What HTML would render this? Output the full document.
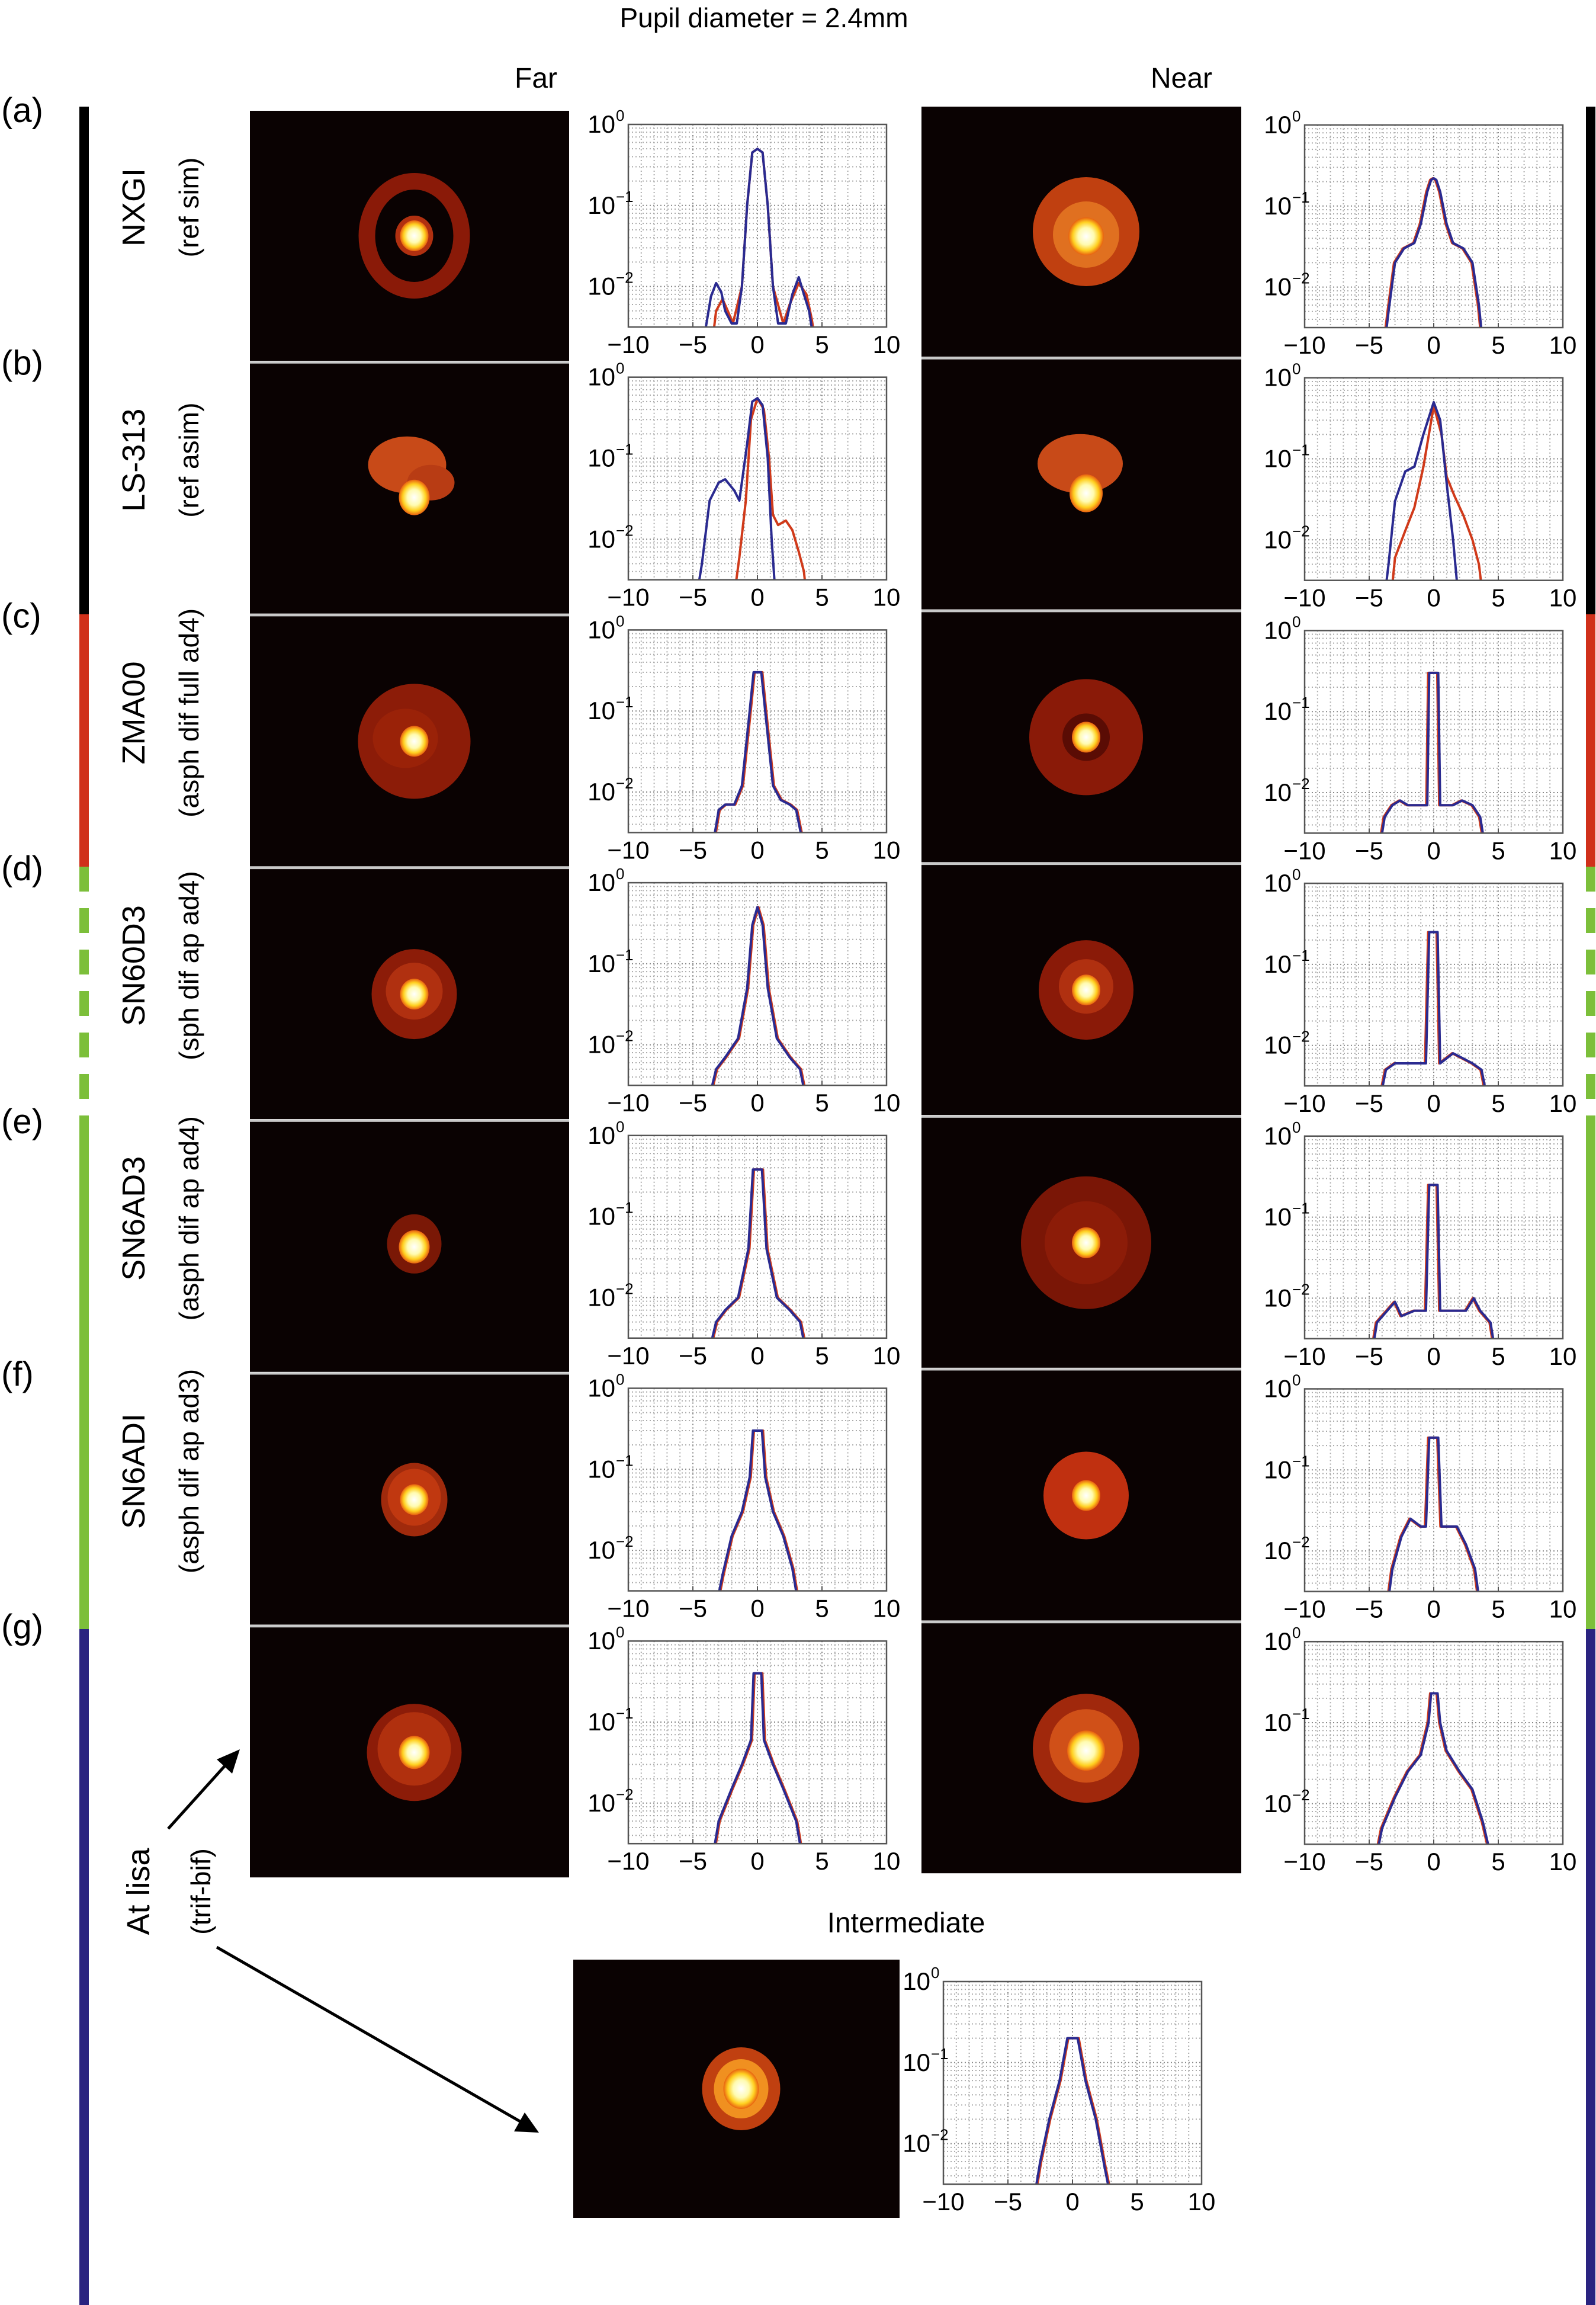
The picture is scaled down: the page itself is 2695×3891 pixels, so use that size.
<!DOCTYPE html>
<html><head><meta charset="utf-8">
<style>
html,body{margin:0;padding:0;background:#fff;}
#root{position:relative;width:2695px;height:3891px;overflow:hidden;background:#fff;}
svg{position:absolute;left:0;top:0;}
text{font-family:"Liberation Sans",sans-serif;}
.nar{font-family:"Liberation Sans Narrow","Liberation Sans",sans-serif;}
</style></head>
<body>
<div id="root">
<svg id="fig" width="2695" height="3891" viewBox="0 0 2695 3891" xmlns="http://www.w3.org/2000/svg">
<defs>
<radialGradient id="core" cx="50%" cy="50%" r="50%">
<stop offset="0" stop-color="#ffffff"/><stop offset="0.45" stop-color="#fffbb0"/><stop offset="0.75" stop-color="#ffd020"/><stop offset="1" stop-color="#e86010"/>
</radialGradient>
</defs>
<text x="1290" y="46" font-size="46" text-anchor="middle" class="nar">Pupil diameter = 2.4mm</text>
<text x="905" y="148" font-size="48" text-anchor="middle" class="nar">Far</text>
<text x="1995" y="148" font-size="48" text-anchor="middle" class="nar">Near</text>
<text x="1530" y="3262" font-size="48" text-anchor="middle" class="nar">Intermediate</text>
<g id="bars"></g>
<g id="labels"></g>
<g id="images"></g>
<g id="plots"></g>
<g>
<line x1="284" y1="3087" x2="385" y2="2975" stroke="#000" stroke-width="5"/>
<polygon points="405,2953 366,2970 392,2994" fill="#000"/>
<line x1="366" y1="3287" x2="885" y2="3585" stroke="#000" stroke-width="5"/>
<polygon points="910,3600 868,3598 886,3566" fill="#000"/>
</g>
</svg>
</div>
<script>
const NS='http://www.w3.org/2000/svg';
const rowLabels=['(a)','(b)','(c)','(d)','(e)','(f)','(g)'];
const lensNames=['NXGI','LS-313','ZMA00','SN60D3','SN6AD3','SN6ADI'];
const lensDesc=['(ref sim)','(ref asim)','(asph dif full ad4)','(sph dif ap ad4)','(asph dif ap ad4)','(asph dif ap ad3)'];
const xTicks=[-10,-5,0,5,10];
const yTickExp=[0,-1,-2];
const B=0.002; // below axis floor
const farX=[
[-4.2,-3.6,-3.2,-2.8,-2.5,-2,-1.6,-1.2,-0.8,-0.4,0,0.4,0.8,1.2,1.6,2.2,2.7,3.2,3.6,4,4.4],
[-4.7,-4.3,-3.7,-3,-2.5,-1.8,-1.4,-0.8,-0.4,0,0.4,0.8,1.1,1.4],
[-3.5,-3,-2.5,-1.8,-1.2,-0.6,-0.3,0,0.3,0.6,1.2,1.8,2.5,3,3.6],
[-3.8,-3.2,-2.5,-1.5,-0.8,-0.4,0,0.4,0.8,1.5,2.5,3.3,3.8],
[-3.8,-3.2,-2.5,-1.5,-0.7,-0.35,0.35,0.7,1.5,2.5,3.3,3.8],
[-3.2,-2.7,-2,-1.2,-0.6,-0.35,0.35,0.6,1.2,2,2.7,3.2],
[-3.5,-3,-2,-1.2,-0.5,-0.3,0.3,0.5,1.2,2,3,3.5]];
const farBlue=[
[B,0.0075,0.011,0.0085,0.005,0.0035,0.0035,0.01,0.1,0.45,0.5,0.45,0.1,0.01,0.0035,0.0035,0.008,0.013,0.008,0.005,B],
[B,0.005,0.03,0.05,0.055,0.04,0.03,0.15,0.5,0.55,0.45,0.1,0.01,B],
[B,0.006,0.007,0.007,0.012,0.1,0.3,0.3,0.3,0.1,0.012,0.008,0.007,0.006,B],
[B,0.005,0.007,0.012,0.05,0.3,0.5,0.3,0.05,0.012,0.007,0.005,B],
[B,0.005,0.007,0.01,0.04,0.38,0.38,0.04,0.01,0.007,0.005,B],
[B,0.005,0.015,0.03,0.08,0.3,0.3,0.08,0.03,0.015,0.006,B],
[B,0.006,0.015,0.03,0.06,0.4,0.4,0.06,0.03,0.015,0.006,B]];
const farRedX=[
[-3.5,-3.2,-2.7,-2.3,-1.9,-1.2,-0.8,-0.4,0,0.4,0.8,1.2,2,2.5,3.2,3.8,4.2,4.5],
[-1.8,-1.4,-0.9,-0.5,0,0.5,0.9,1.2,1.6,2.2,2.7,3.2,3.6,3.8]];
const farRed=[
[B,0.005,0.007,0.005,0.0035,0.01,0.1,0.45,0.5,0.45,0.1,0.01,0.0035,0.006,0.011,0.008,0.004,B],
[B,0.006,0.03,0.3,0.55,0.4,0.1,0.02,0.015,0.017,0.013,0.007,0.004,B]];
const nearX=[
[-3.8,-3.5,-3,-2.3,-1.5,-1,-0.5,-0.2,0,0.2,0.5,1,1.5,2.3,3,3.5,3.8],
[-3.8,-3.5,-3,-2.2,-1.5,-0.8,0,0.5,1,1.5,1.9],
[-4.2,-3.8,-3.2,-2.6,-2,-1,-0.5,-0.35,0.35,0.5,1.5,2.2,3,3.6,4],
[-4.2,-3.7,-3,-2,-0.6,-0.35,0.3,0.5,1.5,2.2,3,3.7,4.2],
[-4.8,-4.4,-3.6,-3,-2.5,-1.5,-0.6,-0.35,0.3,0.5,1.5,2.5,3.1,3.6,4.4,4.8],
[-3.6,-3.2,-2.5,-1.8,-1,-0.6,-0.35,0.35,0.6,1,1.8,2.5,3.2,3.6],
[-4.5,-4,-3,-2,-1,-0.4,-0.2,0.3,0.5,1,2,3,3.8,4.5]];
const nearBlue=[
[B,0.005,0.02,0.03,0.035,0.06,0.15,0.21,0.22,0.21,0.15,0.06,0.035,0.03,0.02,0.006,B],
[B,0.005,0.03,0.07,0.08,0.2,0.5,0.3,0.05,0.01,B],
[B,0.005,0.007,0.008,0.007,0.007,0.007,0.3,0.3,0.007,0.007,0.008,0.007,0.005,B],
[B,0.005,0.006,0.006,0.006,0.25,0.25,0.006,0.008,0.007,0.006,0.005,B],
[B,0.005,0.007,0.009,0.006,0.007,0.007,0.25,0.25,0.007,0.007,0.007,0.01,0.007,0.005,B],
[B,0.006,0.015,0.025,0.02,0.02,0.25,0.25,0.02,0.02,0.02,0.012,0.006,B],
[B,0.005,0.012,0.025,0.04,0.1,0.23,0.23,0.1,0.045,0.025,0.015,0.006,B]];
const nearRedX=[
[-3.3,-3,-2.2,-1.5,-0.8,0,0.6,1,1.6,2.3,3,3.5,3.8]];
const nearRed=[
[B,0.006,0.013,0.025,0.08,0.45,0.2,0.06,0.035,0.02,0.01,0.005,B]];
const midX=[-3,-2.5,-1.8,-1,-0.4,0.4,1,1.8,2.5,3];
const midBlue=[B,0.006,0.02,0.06,0.2,0.2,0.06,0.02,0.005,B];

const svg=document.getElementById('fig');
function el(tag,attrs,parent){const e=document.createElementNS(NS,tag);for(const k in attrs)e.setAttribute(k,attrs[k]);parent.appendChild(e);return e;}

const bars=document.getElementById('bars');
const PITCH=426.7;
function drawBar(x,name){
  const g=el('g',{},bars);
  
  
  el('rect',{x:x,y:180,width:16,height:1037-180,fill:'#000'},g);
  el('rect',{x:x,y:1037,width:16,height:1463-1037,fill:'#d0301a'},g);
  for(let y=1463;y<1893;y+=70){el('rect',{x:x,y:y,width:16,height:Math.min(42,1893-y),fill:'#7cbf3a'},g);}
  el('rect',{x:x,y:1893,width:16,height:2750-1893,fill:'#7cbf3a'},g);
  el('rect',{x:x,y:2750,width:16,height:3891-2750,fill:'#2a2380'},g);
}
drawBar(134,'left-group-bar');
drawBar(2678,'right-group-bar');

const lab=document.getElementById('labels');
rowLabels.forEach((t,i)=>{
  const e=el('text',{x:2,y:206+PITCH*i,'font-size':58,class:'nar'},lab);e.textContent=t;
  
  
});
lensNames.forEach((t,i)=>{
  const cy=350+PITCH*i;
  const a=el('text',{x:0,y:0,'font-size':54,'text-anchor':'middle',transform:`translate(244,${cy}) rotate(-90)`},lab);a.textContent=t;
  
  
  const b=el('text',{x:0,y:0,'font-size':46,'text-anchor':'middle',transform:`translate(335,${cy}) rotate(-90)`},lab);b.textContent=lensDesc[i];
  
  
});
{const a=el('text',{x:0,y:0,'font-size':54,'text-anchor':'middle',transform:'translate(252,3193) rotate(-90)'},lab);a.textContent='At lisa';


const b=el('text',{x:0,y:0,'font-size':46,'text-anchor':'middle',transform:'translate(355,3193) rotate(-90)'},lab);b.textContent='(trif-bif)';

}

const farSpots=[
[[0,0,80,92,'none',28],[0,0,32,34,'#b03010'],[0,0,24,26,'url(#core)']],
[[-12,-40,66,48,'#c84a18'],[28,-10,40,30,'#b83c14'],[0,15,26,30,'url(#core)']],
[[0,0,95,97,'#8c1c08'],[-15,-5,55,50,'#9a2208'],[0,0,24,26,'url(#core)']],
[[0,0,72,76,'#8c1c08'],[0,-5,48,48,'#b03010'],[0,0,24,26,'url(#core)']],
[[0,-5,46,50,'#7a1806'],[0,0,26,28,'url(#core)']],
[[0,0,56,62,'#a02a0c'],[0,-4,45,48,'#c03810'],[0,0,24,26,'url(#core)']],
[[0,0,80,82,'#8c1c08'],[0,-6,62,62,'#b0300e'],[0,0,26,28,'url(#core)']]];
const nearSpots=[
[[0,0,90,92,'#c04010'],[0,5,56,56,'#e07020'],[0,8,30,32,'url(#core)']],
[[-10,-35,72,50,'#c84a18'],[0,15,28,32,'url(#core)']],
[[0,0,96,98,'#8a1a08'],[0,0,40,40,'#5a0c04'],[0,0,24,26,'url(#core)']],
[[0,0,80,84,'#8a1a08'],[0,-6,46,46,'#b03010'],[0,0,24,26,'url(#core)']],
[[0,0,110,112,'#7a1606'],[0,0,70,70,'#8c1c08'],[0,0,24,26,'url(#core)']],
[[0,0,72,74,'#c03010'],[0,0,24,26,'url(#core)']],
[[0,0,90,92,'#a0280c'],[0,-4,62,62,'#d05018'],[0,4,32,34,'url(#core)']]];
const midSpots=[[0,0,66,70,'#c04010'],[0,0,46,50,'#f09020'],[0,0,30,34,'url(#core)']];
const imgs=document.getElementById('images');
function drawImage(x,y,w,h,spots,name){
  const g=el('g',{},imgs);
  
  
  el('rect',{x:x,y:y,width:w,height:h,fill:'#0a0202'},g);
  const cx=x+w/2+8,cy=y+h/2;
  spots.forEach(s=>{
    if(s[4]==='none'){el('ellipse',{cx:cx+s[0],cy:cy+s[1],rx:s[2],ry:s[3],fill:'none',stroke:'#8a1a08','stroke-width':s[5]},g);}
    else el('ellipse',{cx:cx+s[0],cy:cy+s[1],rx:s[2],ry:s[3],fill:s[4]},g);
  });
}
for(let i=0;i<7;i++){
  drawImage(422,187+PITCH*i,539,422,farSpots[i],'far-psf-image-'+rowLabels[i].replace(/[()]/g,''));
  drawImage(1556,180+PITCH*i,540,422,nearSpots[i],'near-psf-image-'+rowLabels[i].replace(/[()]/g,''));
  if(i<6){
    el('rect',{x:422,y:187+PITCH*(i+1)-4,width:539,height:4,fill:'#c8c8c8'},imgs);
    el('rect',{x:1556,y:180+PITCH*(i+1)-4,width:540,height:4,fill:'#c8c8c8'},imgs);
  }
}
drawImage(968,3308,551,436,midSpots,'intermediate-psf-image');

const plots=document.getElementById('plots');
const PW=436,PH=342;
let clipId=0;
function drawPlot(px,py,series,name){
  const g=el('g',{},plots);
  
  
  const sx=x=>px+(x+10)/20*PW;
  const sy=v=>py+(-Math.log10(v))/2.5*PH;
  el('rect',{x:px,y:py,width:PW,height:PH,fill:'#fff'},g);
  for(let x=-9;x<=9;x++){
    el('line',{x1:sx(x),x2:sx(x),y1:py,y2:py+PH,stroke:x%5===0?'#888':'#aaa','stroke-width':2,'stroke-dasharray':'2 4'},g);
  }
  for(let d=0;d>=-3;d--){for(let m=1;m<=9;m++){
    const v=m*Math.pow(10,d-1);const y=sy(v);
    if(y<=py||y>=py+PH)continue;
    el('line',{x1:px,x2:px+PW,y1:y,y2:y,stroke:m===1?'#888':'#aaa','stroke-width':2,'stroke-dasharray':'2 4'},g);
  }}
  const cid='c'+(clipId++);
  const cp=el('clipPath',{id:cid},g);el('rect',{x:px,y:py,width:PW,height:PH},cp);
  const lg=el('g',{'clip-path':`url(#${cid})`},g);
  series.forEach(s=>{
    const pts=s.x.map((x,i)=>sx(x).toFixed(1)+','+sy(s.y[i]).toFixed(1)).join(' ');
    const pl=el('polyline',{points:pts,fill:'none',stroke:s.c,'stroke-width':4,'stroke-linejoin':'round'},lg);
    
    
  });
  el('rect',{x:px,y:py,width:PW,height:PH,fill:'none',stroke:'#555','stroke-width':2.5},g);
  xTicks.forEach(t=>{
    el('line',{x1:sx(t),x2:sx(t),y1:py+PH,y2:py+PH-8,stroke:'#555','stroke-width':2},g);
    const tx=el('text',{x:sx(t),y:py+PH+44,'font-size':42,'text-anchor':'middle',class:'nar'},g);
    tx.textContent=t<0?'\u2212'+(-t):String(t);
    
    
  });
  yTickExp.forEach(e=>{
    const y=sy(Math.pow(10,e));
    const tx=el('text',{x:px-22,y:y+14,'font-size':42,'text-anchor':'end',class:'nar'},g);
    tx.textContent='10';
    
    
    const sp=el('text',{x:px-21,y:y-6,'font-size':26,class:'nar'},g);
    sp.textContent=e===0?'0':'\u2212'+(-e);
    
    
  });
}
for(let i=0;i<7;i++){
  const fr=i<2?{x:farRedX[i],y:farRed[i]}:{x:farX[i].map(v=>v+0.08),y:farBlue[i]};
  drawPlot(1061,210+PITCH*i,[{x:fr.x,y:fr.y,c:'#d03a1a',n:'far-red-curve'},{x:farX[i],y:farBlue[i],c:'#2a2a90',n:'far-blue-curve'}],'far-profile-plot-'+i);
  const nr=i===1?{x:nearRedX[0],y:nearRed[0]}:{x:nearX[i].map(v=>v-0.08),y:nearBlue[i]};
  drawPlot(2203,211+PITCH*i,[{x:nr.x,y:nr.y,c:'#d03a1a',n:'near-red-curve'},{x:nearX[i],y:nearBlue[i],c:'#2a2a90',n:'near-blue-curve'}],'near-profile-plot-'+i);
}
drawPlot(1593,3345,[{x:midX.map(v=>v+0.08),y:midBlue,c:'#d03a1a',n:'intermediate-red-curve'},{x:midX,y:midBlue,c:'#2a2a90',n:'intermediate-blue-curve'}],'intermediate-profile-plot');
</script>
</body></html>
